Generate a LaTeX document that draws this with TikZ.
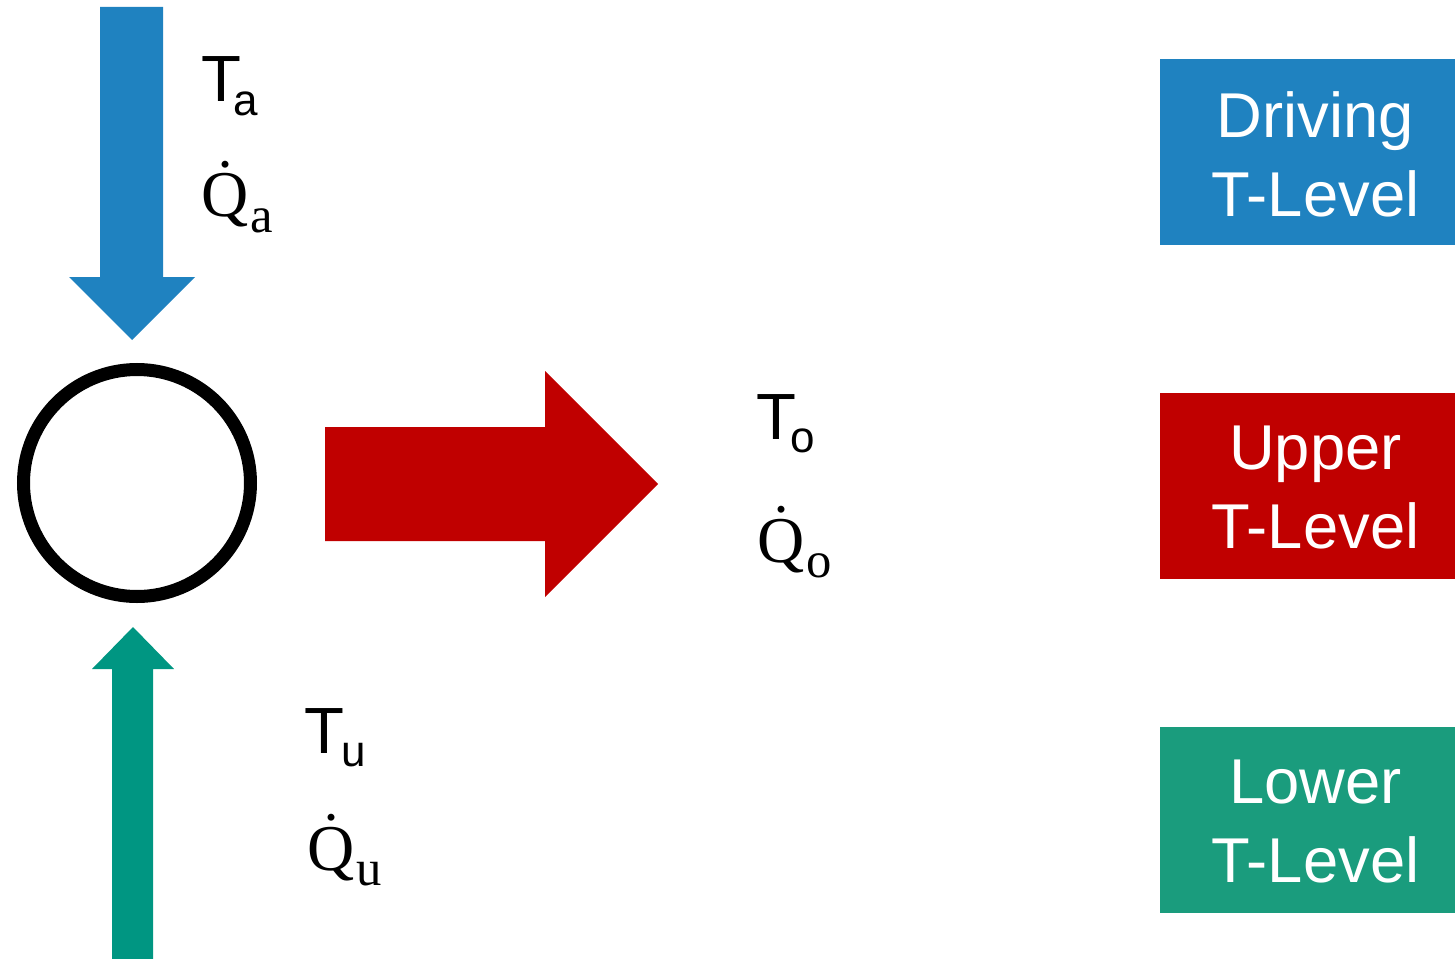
\documentclass[tikz,border=0pt]{standalone}
\usepackage{fontspec}
\setmainfont{Liberation Sans}
\newfontfamily\qfont{Liberation Serif}
\definecolor{drvblue}{HTML}{1F82C0}
\definecolor{uppred}{HTML}{C00000}
\definecolor{lowgreenA}{HTML}{009682}
\definecolor{lowgreenB}{HTML}{1A9C7D}
\newcommand\tlab[2]{{\fontsize{49}{49}\selectfont T}\kern#2\raisebox{-10pt}{\fontsize{33}{33}\selectfont #1}}
\newcommand\qlab[1]{{\qfont\fontsize{49}{49}\selectfont \.{Q}}\kern1.5pt\raisebox{-11.5pt}{\qfont\fontsize{38}{38}\selectfont #1}}
\tikzset{
  lvlbox/.style={minimum width=221.25pt, minimum height=139.5pt, inner sep=0pt},
  lvltext/.style={text=white, align=center, font=\fontsize{47.5}{59.25}\selectfont, inner sep=0pt},
  lab/.style={anchor=base west, inner sep=0pt, text=black}
}
\begin{document}
\begin{tikzpicture}[x=0.75pt, y=-0.75pt]
\useasboundingbox (0,0) rectangle (1455,959);
% blue arrow (down)
\fill[drvblue] (100,7) -- (163,7) -- (163,277) -- (195,277) -- (132,340) -- (69,277) -- (100,277) -- cycle;
% green arrow (up)
\fill[lowgreenA] (112,959) -- (153,959) -- (153,669) -- (174,669) -- (133,627) -- (92,669) -- (112,669) -- cycle;
% red arrow (right)
\fill[uppred] (325,427) -- (545,427) -- (545,371) -- (658,484) -- (545,597) -- (545,541) -- (325,541) -- cycle;
% circle
\node[circle, draw=black, line width=9.75pt, minimum size=170.25pt, inner sep=0pt] (proc) at (137,483) {};
% labels
\node[lab] (ta) at (201,102) {\tlab{a}{-6pt}};
\node[lab] (qa) at (201,217) {\qlab{a}};
\node[lab] (to) at (756,439) {\tlab{o}{-4pt}};
\node[lab] (qo) at (757,562) {\qlab{o}};
\node[lab] (tu) at (304,753) {\tlab{u}{-2pt}};
\node[lab] (qu) at (307,870) {\qlab{u}};
% level boxes
\node[lvlbox, fill=drvblue] (bdrv) at (1307.5,152) {};
\node[lvlbox, fill=uppred] (bupp) at (1307.5,486) {};
\node[lvlbox, fill=lowgreenB] (blow) at (1307.5,820) {};
\node[lvltext] (tdrv) at ([xshift=6pt, yshift=-1.5pt]bdrv.center) {Driving\\T-Level};
\node[lvltext] (tupp) at ([xshift=6pt, yshift=-1.5pt]bupp.center) {Upper\\T-Level};
\node[lvltext] (tlow) at ([xshift=6pt, yshift=-1.5pt]blow.center) {Lower\\T-Level};
\end{tikzpicture}
\end{document}
